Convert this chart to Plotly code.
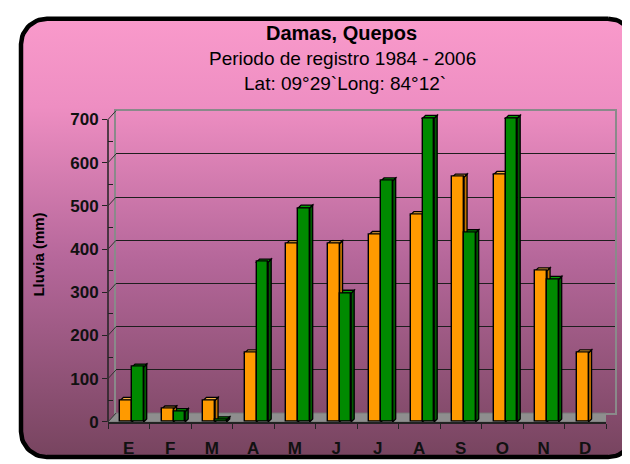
import numpy as np
import plotly.graph_objects as go

# ---------------- data ----------------
months = ['E', 'F', 'M', 'A', 'M', 'J', 'J', 'A', 'S', 'O', 'N', 'D']
serie_naranja = [50, 30, 50, 160, 413, 413, 434, 480, 567, 573, 350, 160]
serie_verde = [127, 24, 5, 370, 495, 298, 558, 703, 438, 703, 330, None]
y_ticks = [0, 100, 200, 300, 400, 500, 600, 700]

title1 = "Damas, Quepos"
title2 = "Periodo de registro 1984 - 2006"
title3 = "Lat: 09°29`Long: 84°12`"
y_title = "Lluvia (mm)"

# ---------------- geometry (pixels) ----------------
W, H = 630, 464
FONT = "Liberation Sans"
ORANGE, ORANGE_SIDE, ORANGE_TOP = "#FF9A00", "#C47400", "#F7B040"
GREEN, GREEN_SIDE, GREEN_TOP = "#008A00", "#005A00", "#00A000"

front = dict(x0=100, x1=598, y0=423, y1=114)   # front axes (0 -> y0, 700 -> y1)
back = dict(x0=108, x1=607, y0=414, y1=105)    # back wall
Y_MAX_VIEW = 730

def fx(px):
    return px / W

def fy(py):
    return 1 - py / H

fig = go.Figure()

# ---------- background rounded box with gradient (subplot xy, pixel space) ----------
bx0, bx1, by0, by1, r = 13, 626, 11, 459, 26
pts = []
def arc(cx, cy, a0, a1):
    t = np.linspace(np.radians(a0), np.radians(a1), 16)
    return [(cx + r * np.cos(a), cy + r * np.sin(a)) for a in t]
pts += arc(bx1 - r, by0 + r, -90, 0)
pts += arc(bx1 - r, by1 - r, 0, 90)
pts += arc(bx0 + r, by1 - r, 90, 180)
pts += arc(bx0 + r, by0 + r, 180, 270)
pts.append(pts[0])
fig.add_trace(go.Scatter(
    x=[p[0] for p in pts], y=[H - p[1] for p in pts], mode="lines", fill="toself",
    line=dict(color="black", width=4.5),
    fillgradient=dict(type="vertical",
                      colorscale=[[0, "#77445F"], [0.45, "#B5679A"], [0.8, "#EE8EC2"], [1, "#F99ACB"]]),
    hoverinfo="skip", showlegend=False, xaxis="x", yaxis="y"))

# ---------- back wall grid (subplot x2y2) ----------
fig.add_trace(go.Scatter(x=[0], y=[0], mode="markers", marker=dict(opacity=0),
                         hoverinfo="skip", showlegend=False, xaxis="x2", yaxis="y2"))

# ---------- bars (subplot x3y3) ----------
w_bar = 0.28
off_o, off_g = -0.20, 0.08
xs = list(range(len(months)))
fig.add_trace(go.Bar(x=xs, y=serie_naranja, width=w_bar, offset=off_o, cliponaxis=False,
                     marker=dict(color=ORANGE, line=dict(color="black", width=1.4)),
                     name="Serie 1", showlegend=False, xaxis="x3", yaxis="y3"))
fig.add_trace(go.Bar(x=xs, y=serie_verde, width=w_bar, offset=off_g, cliponaxis=False,
                     marker=dict(color=GREEN, line=dict(color="black", width=1.4)),
                     name="Serie 2", showlegend=False, xaxis="x3", yaxis="y3"))

shapes = []
px_per_cat = (front["x1"] - front["x0"]) / len(months)
px_per_val = (front["y0"] - front["y1"]) / 700.0
dx = 3.0 / px_per_cat
dy = 3.0 / px_per_val
top_px = front["y0"] - Y_MAX_VIEW * px_per_val

def x3(px):
    return (px - front["x0"]) / px_per_cat - 0.5

def y3(py):
    return (front["y0"] - py) / px_per_val

# floor
floor = [(front["x0"], front["y0"]), (front["x1"], front["y0"]),
         (back["x1"], back["y0"]), (back["x0"], back["y0"])]
path = "M " + " L ".join(f"{x3(a):.4f},{y3(b):.3f}" for a, b in floor) + " Z"
shapes.append(dict(type="path", path=path, xref="x3", yref="y3", layer="between",
                   fillcolor="#8E8E8E", line=dict(color="#7A7A7A", width=1)))

def box_faces(i, v, off, side_col, top_col):
    if v is None:
        return []
    xl = i + off
    xr = xl + w_bar
    top = f"M {xl},{v} L {xr},{v} L {xr+dx},{v+dy} L {xl+dx},{v+dy} Z"
    side = f"M {xr},0 L {xr},{v} L {xr+dx},{v+dy} L {xr+dx},{dy} Z"
    return [dict(type="path", path=side, xref="x3", yref="y3", layer="between",
                 fillcolor=side_col, line=dict(color="black", width=1.3)),
            dict(type="path", path=top, xref="x3", yref="y3", layer="between",
                 fillcolor=top_col, line=dict(color="black", width=1.3))]

for i in xs:
    shapes += box_faces(i, serie_verde[i], off_g, GREEN_SIDE, GREEN_TOP)
    shapes += box_faces(i, serie_naranja[i], off_o, ORANGE_SIDE, ORANGE_TOP)

# front y axis line
shapes.append(dict(type="line", xref="paper", yref="paper",
                   x0=fx(front["x0"]), y0=fy(front["y0"]), x1=fx(front["x0"]), y1=fy(front["y1"]),
                   line=dict(color="#222222", width=1.5)))
# diagonal connectors from front y ticks to back wall
for v in y_ticks:
    pf = front["y0"] - v * px_per_val
    pb = back["y0"] - v * (back["y0"] - back["y1"]) / 700.0
    shapes.append(dict(type="line", xref="paper", yref="paper",
                       x0=fx(front["x0"]), y0=fy(pf), x1=fx(back["x0"]), y1=fy(pb),
                       line=dict(color="#333333", width=1)))

annotations = [
    dict(text=f"<b>{title1}</b>", x=fx(333), y=fy(26), xref="paper", yref="paper",
         xanchor="center", yanchor="middle",
         showarrow=False, font=dict(family=FONT, size=20, color="black")),
    dict(text=title2, x=fx(334), y=fy(52), xref="paper", yref="paper",
         xanchor="center", yanchor="middle",
         showarrow=False, font=dict(family=FONT, size=19, color="black")),
    dict(text=title3, x=fx(337), y=fy(77), xref="paper", yref="paper",
         xanchor="center", yanchor="middle",
         showarrow=False, font=dict(family=FONT, size=19, color="black")),
    dict(text=f"<b>{y_title}</b>", x=fx(31), y=fy(252), xref="paper", yref="paper",
         xanchor="center", yanchor="middle",
         textangle=-90, showarrow=False, font=dict(family=FONT, size=15, color="black")),
]

hidden = dict(visible=False, showgrid=False, zeroline=False, fixedrange=True)

fig.update_layout(
    width=W, height=H,
    margin=dict(l=0, r=0, t=0, b=0),
    paper_bgcolor="white", plot_bgcolor="rgba(0,0,0,0)",
    barmode="overlay", bargap=0,
    showlegend=False,
    xaxis=dict(domain=[0, 1], range=[0, W], **hidden),
    yaxis=dict(domain=[0, 1], range=[0, H], **hidden),
    xaxis2=dict(domain=[fx(back["x0"]), fx(back["x1"])], range=[0, 1], anchor="y2",
                showgrid=False, zeroline=False, showticklabels=False, ticks="",
                showline=True, linecolor="#8A8A8A", linewidth=1.5, mirror=True),
    yaxis2=dict(domain=[fy(back["y0"]), fy(back["y1"])], range=[0, 700], anchor="x2",
                tickvals=y_ticks, showgrid=True, gridcolor="#1E1E1E", gridwidth=1,
                zeroline=False, showticklabels=False, ticks="",
                showline=True, linecolor="#8A8A8A", linewidth=1.5, mirror=True),
    xaxis3=dict(domain=[fx(front["x0"]), fx(front["x1"])], range=[-0.5, len(months) - 0.5],
                anchor="y3", tickvals=xs, ticktext=months, ticks="",
                ticklabelstandoff=10,
                showgrid=False, zeroline=False,
                showline=True, linecolor="#222222", linewidth=1.5,
                tickfont=dict(family=FONT, size=17, color="#111111", weight="bold"),
                minor=dict(tick0=-0.5, dtick=1, ticks="outside", ticklen=5,
                           tickcolor="#222222", tickwidth=1, showgrid=False)),
    yaxis3=dict(domain=[fy(front["y0"]), fy(top_px)], range=[0, Y_MAX_VIEW], anchor="x3",
                tickvals=y_ticks, ticks="outside", ticklen=5, tickcolor="#222222",
                showgrid=False, zeroline=False, showline=False,
                tickfont=dict(family=FONT, size=17, color="#111111", weight="bold"),
                minor=dict(tick0=50, dtick=100, ticks="inside", ticklen=5,
                           tickcolor="#222222", showgrid=False)),
    shapes=shapes,
    annotations=annotations,
)

fig.write_html("out.html")
